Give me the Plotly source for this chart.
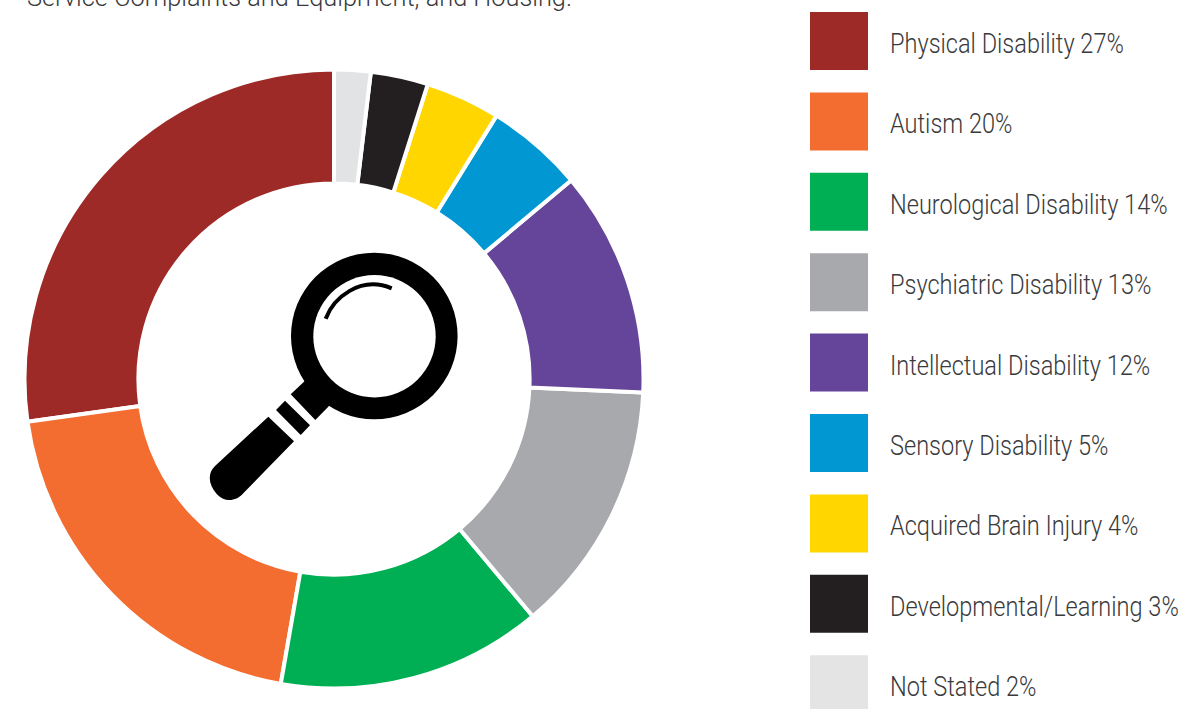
import plotly.graph_objects as go

W, H = 1195, 709
categories = ["Physical Disability", "Autism", "Neurological Disability", "Psychiatric Disability",
              "Intellectual Disability", "Sensory Disability", "Acquired Brain Injury",
              "Developmental/Learning", "Not Stated"]
# percentages printed in the legend
values = [27, 20, 14, 13, 12, 5, 4, 3, 2]
# slice sizes as measured from the drawn ring (the source artwork is not exactly proportional)
slice_sizes = [27.2, 20.05, 13.85, 13.2, 11.8, 5.1, 3.9, 3.0, 1.9]
colors = ["#9E2A27", "#F36C30", "#00AE53", "#A7A9AC", "#65459A", "#0097D2", "#FFD600", "#231F20", "#E1E3E5"]
legend_colors = colors[:-1] + ["#E4E4E4"]
caption = "Service Complaints and Equipment, and Housing."

CX, CY, R = 334, 379, 309.5
fig = go.Figure(go.Pie(
    labels=categories, values=slice_sizes, sort=False, direction="counterclockwise",
    rotation=-slice_sizes[0] / sum(slice_sizes) * 360,
    hole=0.632, textinfo="none", showlegend=False,
    marker=dict(colors=colors, line=dict(color="white", width=4)),
    domain=dict(x=[(CX - R) / W, (CX + R) / W], y=[(H - CY - R) / H, (H - CY + R) / H]),
))

shapes, annotations = [], []
TEXT = "#3A3A3C"
for i, (cat, val) in enumerate(zip(categories, values)):
    y0 = 12 + i * 80.4
    y1 = min(y0 + 58, H + 2)
    shapes.append(dict(type="rect", xref="x", yref="y", x0=810, x1=868, y0=y0, y1=y1,
                       fillcolor=legend_colors[i], line_width=0, layer="above"))
    annotations.append(dict(xref="x", yref="y", x=890, y=y0 + 32, text=f"{cat} {val}%", showarrow=False,
                            xanchor="left", yanchor="middle",
                            font=dict(family="Roboto", weight=300, size=27, color=TEXT)))

annotations.append(dict(xref="x", yref="paper", x=27, y=(H + 3) / H, text=caption, showarrow=False, xanchor="left",
                        yanchor="middle", font=dict(family="Roboto", weight=300, size=26, color=TEXT)))

def p(zx, zy):
    return f"{zx / 3 + 180:.1f},{zy / 3 + 220:.1f}"

def blk(path):
    return dict(type="path", xref="x", yref="y", path=path, fillcolor="black", line_width=0, layer="above")

shapes.append(blk(f"M{p(372,485)} L{p(332,523)} L{p(406,600)} L{p(445,560)} L{p(470,520)} L{p(400,450)} Z"))
shapes.append(blk(f"M{p(315,542)} L{p(288,570)} L{p(362,645)} L{p(390,616)} Z"))
shapes.append(blk(f"M{p(265,590)} L{p(342,664)} L{p(190,820)} C{p(165,848)} {p(130,845)} {p(110,822)} "
                  f"C{p(85,795)} {p(82,760)} {p(105,738)} Z"))
shapes.append(dict(type="circle", xref="x", yref="y", x0=374.3 - 83.3, x1=374.3 + 83.3, y0=336 - 83.3, y1=336 + 83.3,
                   fillcolor="black", line_width=0, layer="above"))
shapes.append(dict(type="circle", xref="x", yref="y", x0=374.5 - 61.2, x1=374.5 + 61.2, y0=336.2 - 61.2, y1=336.2 + 61.2,
                   fillcolor="white", line_width=0, layer="above"))
shapes.append(dict(type="path", xref="x", yref="y",
                   path=f"M{p(437,296)} C{p(460,235)} {p(540,165)} {p(635,205)}",
                   line=dict(color="black", width=4), layer="above"))

fig.update_layout(
    width=W, height=H, margin=dict(l=0, r=0, t=0, b=0), paper_bgcolor="white", plot_bgcolor="rgba(0,0,0,0)",
    xaxis=dict(range=[0, W], visible=False, fixedrange=True, domain=[0, 1]),
    yaxis=dict(range=[H, 0], visible=False, fixedrange=True, domain=[0, 1]),
    shapes=shapes, annotations=annotations,
)
fig.add_trace(go.Scatter(x=[], y=[], xaxis="x", yaxis="y", showlegend=False))

NARROW = 0.872
post = """
document.body.style.margin='0';document.body.style.overflow='hidden';
document.querySelectorAll('.annotation text').forEach(function(t){
  var w = t.getComputedTextLength() * %s;
  if (t.textContent.indexOf('Service')===0) w = 545;
  t.setAttribute('lengthAdjust','spacingAndGlyphs');
  t.setAttribute('textLength', w);
  t.setAttribute('x', w/2);
  t.style.textAnchor='middle';
});
""" % NARROW
fig.write_html("out.html", config=dict(displayModeBar=False), post_script=post)
